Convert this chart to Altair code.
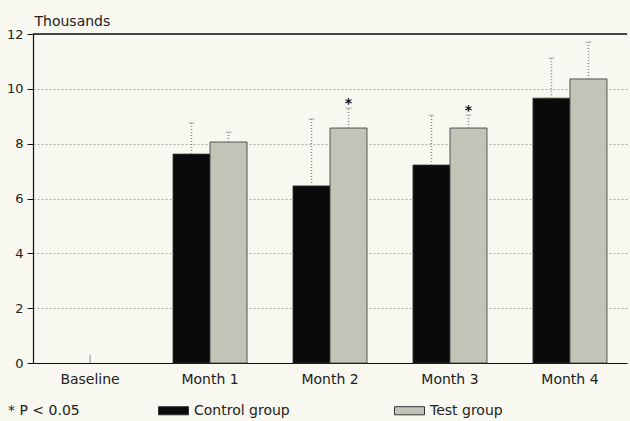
import altair as alt
import pandas as pd

categories = ["Baseline", "Month 1", "Month 2", "Month 3", "Month 4"]
groups = ["Control group", "Test group"]
control_vals = [0.0, 7.62, 6.46, 7.22, 9.66]
test_vals = [0.0, 8.06, 8.57, 8.57, 10.36]
control_err = [None, 8.75, 8.90, 9.04, 11.12]
test_err = [None, 8.42, 9.30, 9.04, 11.70]
test_sig = ["", "", "*", "*", ""]
baseline_err = 0.3
y_ticks = [0, 2, 4, 6, 8, 10, 12]

rows = []
for i, c in enumerate(categories):
    rows.append(dict(cat=c, group=groups[0], value=control_vals[i], err=control_err[i], sig=""))
    rows.append(dict(cat=c, group=groups[1], value=test_vals[i], err=test_err[i], sig=test_sig[i]))
df = pd.DataFrame(rows)

FONT = "DejaVu Sans"

x_enc = alt.X(
    "cat:N", sort=categories,
    scale=alt.Scale(domain=categories, paddingInner=0.383, paddingOuter=0.167),
    axis=alt.Axis(title=None, labelAngle=0, ticks=False, domainColor="#111", domainWidth=1.2,
                  labelFontSize=14, labelPadding=9, labelColor="#222"),
)
xo_enc = alt.XOffset("group:N", sort=groups, scale=alt.Scale(domain=groups, paddingInner=0, paddingOuter=0))
y_scale = alt.Scale(domain=[0, 12], nice=False)

base = alt.Chart(df)

bars = base.transform_filter("datum.value > 0").mark_bar(stroke="#333", strokeWidth=0.8).encode(
    x=x_enc,
    xOffset=xo_enc,
    y=alt.Y("value:Q", scale=y_scale,
            axis=alt.Axis(values=y_ticks, title="Thousands", titleAngle=0, titleX=1, titleY=-9,
                          titleAlign="left", titleBaseline="alphabetic", titleFontWeight="normal",
                          titleFontSize=14, titleColor="#222",
                          grid=True, gridDash=[2, 2], gridColor="#b0b0a8",
                          tickSize=6, tickColor="#111", domainColor="#111", domainWidth=1.2,
                          labelFontSize=13, labelPadding=4, labelColor="#222")),
    color=alt.Color("group:N", scale=alt.Scale(domain=groups, range=["#0a0a0a", "#c4c3b8"]),
                    legend=alt.Legend(title="* P < 0.05", titleOrient="left", orient="none",
                                      titleAnchor="end", titleBaseline="bottom",
                                      legendX=-25, legendY=361, direction="horizontal",
                                      symbolType="M-1,-0.27H1V0.27H-1Z", symbolSize=900,
                                      symbolStrokeColor="#333", symbolStrokeWidth=1,
                                      labelFontSize=14, titleFontSize=14, titleFontWeight="normal",
                                      labelColor="#222", titleColor="#222",
                                      columnPadding=102, labelOffset=5, titlePadding=78)),
)

err_rules = base.transform_filter("datum.err != null").mark_rule(
    color="#8a8a8a", strokeDash=[1, 2], strokeWidth=1.5
).encode(x=x_enc, xOffset=xo_enc, y=alt.Y("value:Q", scale=y_scale), y2="err:Q")

caps = base.transform_filter("datum.err != null").mark_tick(
    orient="horizontal", size=6, thickness=1, color="#8a8a8a"
).encode(x=x_enc, xOffset=xo_enc, y=alt.Y("err:Q", scale=y_scale))

stars = base.transform_filter("datum.sig != ''").mark_text(
    fontSize=14, fontWeight="bold", dy=-4, baseline="middle", color="#111"
).encode(x=x_enc, xOffset=xo_enc, y=alt.Y("err:Q", scale=y_scale), text="sig:N")

base_err = alt.Chart(pd.DataFrame({"cat": ["Baseline"], "lo": [0.0], "hi": [baseline_err]})).mark_rule(
    color="#8a8a8a", strokeWidth=1
).encode(x=x_enc, y=alt.Y("lo:Q", scale=y_scale), y2="hi:Q")

top_line = alt.Chart(pd.DataFrame({"top": [12]})).mark_rule(color="#111", strokeWidth=1.5).encode(
    y=alt.Y("top:Q", scale=y_scale)
)

chart = alt.layer(bars, err_rules, caps, stars, base_err, top_line).properties(
    width=594, height=329,
    autosize=alt.AutoSizeParams(type="none"),
    padding={"left": 33, "top": 34, "right": 3, "bottom": 58},
    background="#f8f7f0",
).configure(font=FONT).configure_view(stroke=None)

chart.save("out.html", embed_options={"renderer": "svg", "actions": False})
